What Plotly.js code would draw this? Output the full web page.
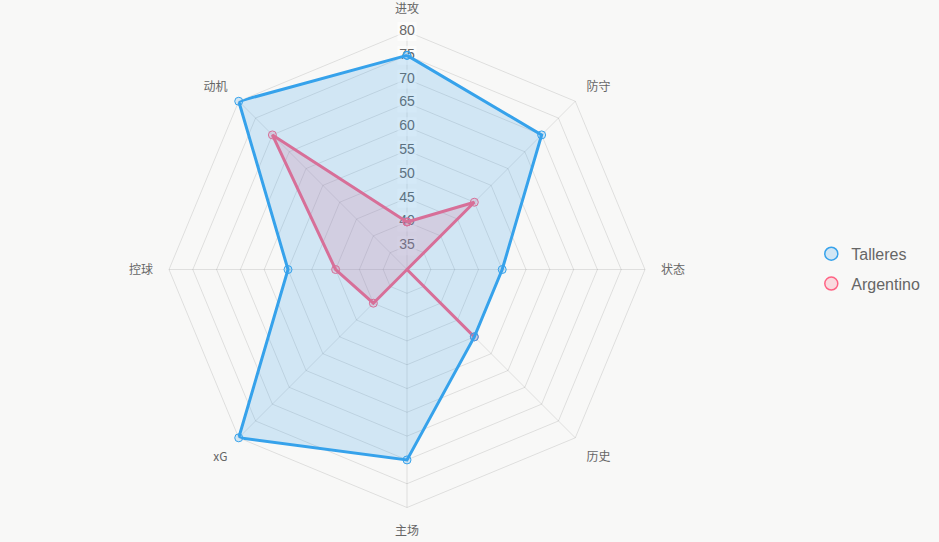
<!DOCTYPE html>
<html><head><meta charset="utf-8">
<script src="https://cdn.plot.ly/plotly-3.0.1.min.js"></script>
<style>html,body{margin:0;padding:0;background:#f8f8f7;}</style>
</head><body><div id="chart" style="width:939px;height:542px;"></div>
<script>
const categories = ['进攻','防守','状态','历史','主场','xG','控球','动机'];
const talleres = [75, 70, 50, 50, 70, 80, 55, 80];
const argentino = [40, 50, 30, 50, 30, 40, 45, 70];
const seriesNames = ['Talleres','Argentino'];
const radialTicks = [35,40,45,50,55,60,65,70,75,80];
const radialTickLabels = radialTicks.map(String);

const close = a => a.concat([a[0]]);
const thetaClosed = close(categories);

const blue = '#36A2EB', blueFill = 'rgba(54,162,235,0.2)';
const pink = '#FF6384', pinkFill = 'rgba(255,99,132,0.2)';

function series(name, vals, col, fillc){
  return {type:'scatterpolar', name:name, r: close(vals), theta: thetaClosed,
    mode:'lines+markers', fill:'toself', fillcolor: fillc,
    line:{color:col, width:3},
    marker:{size:8, color:fillc, line:{color:col, width:1}},
    showlegend:false, hoverinfo:'r+theta'};
}
function legendItem(name, col, fillc, rank){
  return {type:'scatterpolar', name:name, r:[null], theta:[categories[0]],
    mode:'markers', marker:{size:13, color:fillc, line:{color:col, width:1.5}},
    showlegend:true, legendrank:rank, legendgroup:name, hoverinfo:'skip'};
}

const traces = [
  {type:'scatterpolar', r: radialTicks, theta: radialTicks.map(()=>categories[0]),
   mode:'markers+text', text: radialTickLabels, textposition:'middle center',
   textfont:{size:14, color:'#666', family:'Liberation Sans, Arial, sans-serif'},
   marker:{symbol:'square', size:19, color:'rgba(255,255,255,0.55)', line:{width:0}},
   showlegend:false, hoverinfo:'skip', cliponaxis:false},
  series(seriesNames[1], argentino, pink, pinkFill),
  series(seriesNames[0], talleres, blue, blueFill),
  legendItem(seriesNames[0], blue, blueFill, 1),
  legendItem(seriesNames[1], pink, pinkFill, 2)
];

const layout = {
  width:939, height:542,
  margin:{l:0,r:0,t:0,b:0},
  paper_bgcolor:'#f8f8f7', plot_bgcolor:'#f8f8f7',
  font:{family:'Liberation Sans, Noto Sans CJK SC, sans-serif', color:'#666'},
  polar:{
    domain:{x:[0.18,0.6869], y:[0.0636,0.9418]},
    bgcolor:'rgba(0,0,0,0)',
    gridshape:'linear',
    radialaxis:{range:[30,80], tickvals:radialTicks, showticklabels:false, ticks:'',
      showline:false, gridcolor:'rgba(0,0,0,0.1)', angle:90, layer:'below traces'},
    angularaxis:{direction:'clockwise', rotation:90, gridcolor:'rgba(0,0,0,0.1)',
      linecolor:'rgba(0,0,0,0.1)', showline:true, ticks:'outside', ticklen:13,
      tickcolor:'rgba(0,0,0,0)', layer:'below traces',
      tickfont:{size:12, color:'#666', family:'Noto Sans CJK SC, Liberation Sans, sans-serif'}}
  },
  showlegend:true,
  legend:{x:0.864, xanchor:'left', y:0.504, yanchor:'middle', bgcolor:'rgba(0,0,0,0)',
    font:{size:16, color:'#666', family:'Liberation Sans, Arial, sans-serif'},
    traceorder:'grouped', tracegroupgap:6, itemsizing:'trace'}
};

Plotly.newPlot('chart', traces, layout, {displayModeBar:false, staticPlot:true});
</script></body></html>
